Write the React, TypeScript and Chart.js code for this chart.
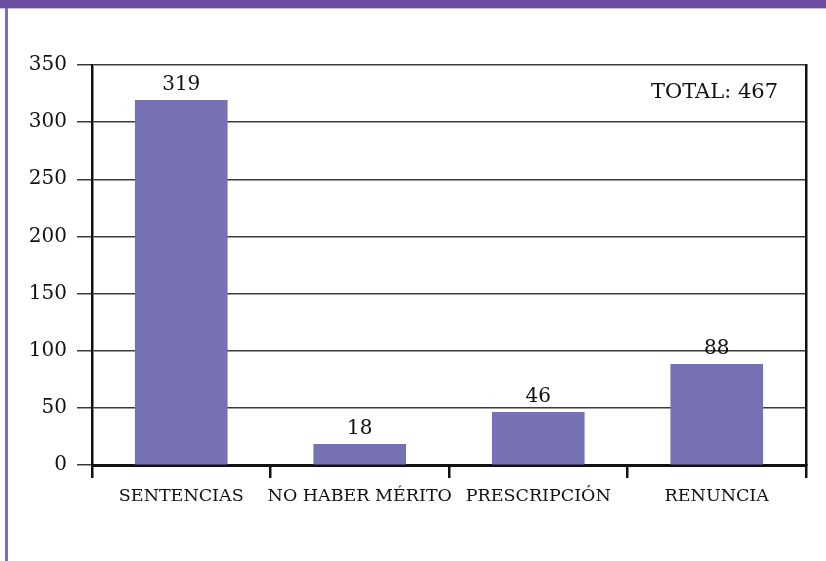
import React, { useEffect, useRef } from "react";
import { Chart, registerables } from "chart.js";

Chart.register(...registerables);

const categories = ["SENTENCIAS", "NO HABER MÉRITO", "PRESCRIPCIÓN", "RENUNCIA"];
const values = [319, 18, 46, 88];
const yTicks = [0, 50, 100, 150, 200, 250, 300, 350];
const totalLabel = "TOTAL: 467";

const SERIF = "'DejaVu Serif', 'Liberation Serif', serif";
const TEXT = "#111";

export default function App() {
  const ref = useRef<HTMLCanvasElement | null>(null);

  useEffect(() => {
    if (!ref.current) return;
    const labelPlugin = {
      id: "valueLabels",
      afterDatasetsDraw(chart: any) {
        const ctx = chart.ctx;
        const meta = chart.getDatasetMeta(0);
        ctx.save();
        ctx.fillStyle = TEXT;
        ctx.font = `20px ${SERIF}`;
        ctx.textAlign = "center";
        ctx.textBaseline = "alphabetic";
        meta.data.forEach((bar: any, i: number) => {
          ctx.fillText(String(values[i]), bar.x, bar.y - 10);
        });
        ctx.font = `21px ${SERIF}`;
        ctx.textAlign = "right";
        ctx.fillText(totalLabel, chart.chartArea.right - 28, chart.chartArea.top + 33);
        ctx.restore();
      },
    };

    const chart = new Chart(ref.current, {
      type: "bar",
      data: {
        labels: categories,
        datasets: [
          {
            data: values,
            backgroundColor: "#7671b3",
            barThickness: 92,
            borderWidth: 0,
          },
        ],
      },
      options: {
        animation: false,
        responsive: false,
        maintainAspectRatio: false,
        layout: { padding: { left: 0, top: 65, right: 20, bottom: 0 } },
        plugins: { legend: { display: false }, tooltip: { enabled: false } },
        scales: {
          x: {
            offset: true,
            grid: {
              offset: true,
              drawOnChartArea: false,
              drawTicks: true,
              tickLength: 13,
              color: "#111",
              lineWidth: 2.5,
            },
            border: { display: true, color: "#111", width: 3 },
            ticks: {
              color: TEXT,
              font: { family: SERIF, size: 17.5 },
              padding: 8,
              maxRotation: 0,
              autoSkip: false,
            },
            afterFit(scale: any) {
              scale.height = 96;
            },
          },
          y: {
            min: 0,
            max: 350,
            afterBuildTicks(scale: any) {
              scale.ticks = yTicks.map((v) => ({ value: v }));
            },
            grid: {
              color: "#3a3a3a",
              lineWidth: 1.5,
              drawTicks: true,
              tickLength: 15,
            },
            border: { display: true, color: "#111", width: 2.5 },
            ticks: {
              color: TEXT,
              font: { family: SERIF, size: 20 },
              padding: 10,
            },
            afterFit(scale: any) {
              scale.width = 92;
            },
          },
          yRight: {
            position: "right",
            min: 0,
            max: 1,
            grid: { display: false, drawTicks: false },
            border: { display: true, color: "#111", width: 2.5 },
            ticks: { display: false },
            afterFit(scale: any) {
              scale.width = 0;
            },
          },
        },
      },
      plugins: [labelPlugin],
    } as any);
    return () => chart.destroy();
  }, []);

  return (
    <div
      style={{
        position: "absolute",
        left: 0,
        top: 0,
        width: 826,
        height: 561,
        background: "#fff",
        overflow: "hidden",
      }}
    >
      <div style={{ position: "absolute", left: 0, top: 0, width: 826, height: 8, background: "#6c4ea2" }} />
      <div style={{ position: "absolute", left: 0, top: 8, width: 826, height: 1, background: "#c9bde0" }} />
      <div style={{ position: "absolute", left: 5, top: 8, width: 3, height: 553, background: "#8468bd" }} />
      <canvas ref={ref} width={826} height={561} style={{ position: "absolute", left: 0, top: 0 }} />
    </div>
  );
}
